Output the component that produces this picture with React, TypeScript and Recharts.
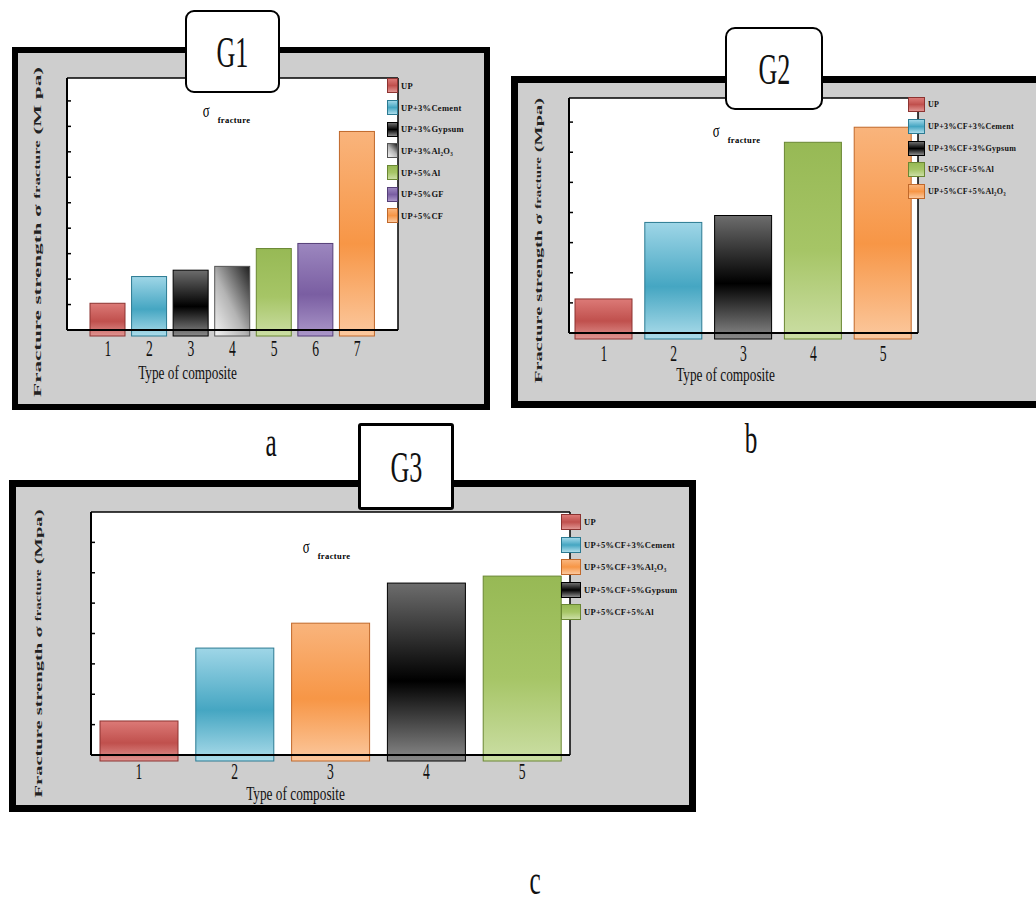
import React from "react";
import { BarChart, Bar, XAxis, YAxis, CartesianGrid, Cell, Legend } from "recharts";

const SERIF = '"Liberation Serif", "Times New Roman", serif';

// G1: UP with single additives
const g1Types = ["1", "2", "3", "4", "5", "6", "7"];
const g1Strength = [1.05, 2.1, 2.35, 2.5, 3.2, 3.4, 7.8];
const g1Names = ["UP", "UP+3%Cement", "UP+3%Gypsum", "UP+3%Al₂O₃", "UP+5%Al", "UP+5%GF", "UP+5%CF"];
const g1Colors = ["red", "blue", "black", "gray", "green", "purple", "orange"];
const g1YTicks = [1, 2, 3, 4, 5, 6, 7, 8, 9];

// G2: UP + 3%CF hybrids
const g2Types = ["1", "2", "3", "4", "5"];
const g2Strength = [1.13, 3.67, 3.9, 6.33, 6.83];
const g2Names = ["UP", "UP+3%CF+3%Cement", "UP+3%CF+3%Gypsum", "UP+5%CF+5%Al", "UP+5%CF+5%Al₂O₃"];
const g2Colors = ["red", "blue", "black", "green", "orange"];
const g2YTicks = [1, 2, 3, 4, 5, 6, 7];

// G3: UP + 5%CF hybrids
const g3Types = ["1", "2", "3", "4", "5"];
const g3Strength = [1.12, 3.52, 4.34, 5.66, 5.89];
const g3Names = ["UP", "UP+5%CF+3%Cement", "UP+5%CF+3%Al₂O₃", "UP+5%CF+5%Gypsum", "UP+5%CF+5%Al"];
const g3Colors = ["red", "blue", "orange", "black", "green"];
const g3YTicks = [1, 2, 3, 4, 5, 6, 7];

// top / middle / bottom shades of each bar, plus outline
const SHADES: Record<string, { stops: string[]; line: string; diag?: boolean }> = {
  red: { stops: ["#dc7a77", "#c0504d", "#e09491"], line: "#8c3331" },
  blue: { stops: ["#9fd6e7", "#45a6c2", "#acdcea"], line: "#2b7a92" },
  black: { stops: ["#6d6d6d", "#000000", "#8a8a8a"], line: "#000000" },
  gray: { stops: ["#f4f4f4", "#b4b4b4", "#1e1e1e"], line: "#555555", diag: true },
  green: { stops: ["#97b955", "#a6c566", "#cbdea4"], line: "#6a8733" },
  purple: { stops: ["#9c87bf", "#7a5ea2", "#ab97c9"], line: "#553f78" },
  orange: { stops: ["#f9b47c", "#f79646", "#fbc89e"], line: "#c0682a" },
};

const swatchBg = (c: string) => {
  const s = SHADES[c];
  return s.diag
    ? `linear-gradient(45deg, ${s.stops[0]}, ${s.stops[1]}, ${s.stops[2]})`
    : `linear-gradient(to bottom, ${s.stops[0]}, ${s.stops[1]}, ${s.stops[2]})`;
};

// bar drawn a little past the baseline, like the original's raised base
function RaisedBar(props: any) {
  const { x, y, width, height, fill, stroke } = props;
  if (!height || height <= 0) return null;
  return <rect x={x} y={y} width={width} height={height + 6} fill={fill} stroke={stroke} strokeWidth={1} />;
}

// keeps the tick marks but draws no tick text
function NoLabel() {
  return <g />;
}

function NumTick(props: any) {
  const { x, y, payload, dy } = props;
  return (
    <text
      transform={`translate(${x},${y + dy}) scale(0.85,1.5)`}
      textAnchor="middle"
      dominantBaseline="central"
      fontFamily={SERIF}
      fontSize={16}
      fill="#111"
    >
      {payload.value}
    </text>
  );
}

function XTitle(props: any) {
  const { viewBox, dx, dy } = props;
  const cx = viewBox.x + viewBox.width / 2 + dx;
  const cy = viewBox.y + dy;
  return (
    <text
      transform={`translate(${cx},${cy}) scale(0.95,1.3)`}
      textAnchor="middle"
      dominantBaseline="central"
      fontFamily={SERIF}
      fontSize={14}
      fill="#111"
    >
      Type of composite
    </text>
  );
}

function YTitle(props: any) {
  const { viewBox, dx, dy, len, unit } = props;
  const cx = viewBox.x + dx;
  const cy = viewBox.y + viewBox.height / 2 + dy;
  return (
    <text
      x={cx}
      y={cy}
      transform={`rotate(-90 ${cx} ${cy})`}
      textAnchor="middle"
      dominantBaseline="central"
      fontFamily={SERIF}
      fontSize={11}
      fontWeight="bold"
      fill="#222"
      textLength={len}
      lengthAdjust="spacingAndGlyphs"
    >
      Fracture strength  σ <tspan fontSize={8}>fracture</tspan> ({unit})
    </text>
  );
}

function SwatchLegend(props: any) {
  const { names, colors, sw, sh, row, font } = props;
  return (
    <div style={{ fontFamily: SERIF }}>
      {names.map((n: string, i: number) => (
        <div key={n + i} style={{ display: "flex", alignItems: "center", height: row }}>
          <div
            style={{
              width: sw,
              height: sh,
              background: swatchBg(colors[i]),
              border: `1px solid ${SHADES[colors[i]].line}`,
              boxSizing: "border-box",
              flexShrink: 0,
            }}
          />
          <span
            style={{
              fontSize: font,
              fontWeight: "bold",
              color: "#111",
              marginLeft: 3,
              whiteSpace: "nowrap",
              letterSpacing: 0.3,
            }}
          >
            {n}
          </span>
        </div>
      ))}
    </div>
  );
}

type Spec = {
  id: string;
  types: string[];
  values: number[];
  names: string[];
  colors: string[];
  yTicks: number[];
  yMax: number;
  frame: { left: number; top: number; width: number; height: number; border: number };
  margin: { top: number; right: number; bottom: number; left: number };
  barSize: number;
  pad: number;
  unit: string;
  yTitle: { dx: number; dy: number; len: number };
  tickDy: number;
  xTitle: { dx: number; dy: number };
  legend: { left: number; top: number; sw: number; sh: number; row: number; font: number };
};

const panels: Spec[] = [
  {
    id: "g1",
    types: g1Types,
    values: g1Strength,
    names: g1Names,
    colors: g1Colors,
    yTicks: g1YTicks,
    yMax: 9.9,
    frame: { left: 12, top: 47, width: 478, height: 363, border: 6 },
    margin: { top: 24, right: 86, bottom: 34, left: 49 },
    barSize: 35,
    pad: 20,
    unit: "M pa",
    yTitle: { dx: -30, dy: 28, len: 330 },
    tickDy: 18,
    xTitle: { dx: -45, dy: 43 },
    legend: { left: 369, top: 22, sw: 11, sh: 15, row: 21.7, font: 8.5 },
  },
  {
    id: "g2",
    types: g2Types,
    values: g2Strength,
    names: g2Names,
    colors: g2Colors,
    yTicks: g2YTicks,
    yMax: 7.8,
    frame: { left: 511, top: 76, width: 540, height: 332, border: 7 },
    margin: { top: 14, right: 126, bottom: 28, left: 51 },
    barSize: 57,
    pad: 0,
    unit: "Mpa",
    yTitle: { dx: -31, dy: 25, len: 285 },
    tickDy: 20,
    xTitle: { dx: -18, dy: 42 },
    legend: { left: 390, top: 11, sw: 17, sh: 15, row: 21.7, font: 8 },
  },
  {
    id: "g3",
    types: g3Types,
    values: g3Strength,
    names: g3Names,
    colors: g3Colors,
    yTicks: g3YTicks,
    yMax: 8,
    frame: { left: 9, top: 480, width: 687, height: 332, border: 7 },
    margin: { top: 24, right: 119, bottom: 10, left: 75 },
    barSize: 78,
    pad: 0,
    unit: "Mpa",
    yTitle: { dx: -53, dy: 20, len: 288 },
    tickDy: 16,
    xTitle: { dx: -35, dy: 39 },
    legend: { left: 545, top: 24, sw: 20, sh: 16, row: 22.5, font: 8.5 },
  },
];

function StrengthPanel({ spec }: { spec: Spec }) {
  const { frame } = spec;
  const w = frame.width - frame.border * 2;
  const h = frame.height - frame.border * 2;
  const data = spec.types.map((t, i) => ({ type: t, strength: spec.values[i] }));
  const used = Array.from(new Set(spec.colors));

  return (
    <div
      style={{
        position: "absolute",
        left: frame.left,
        top: frame.top,
        width: w,
        height: h,
        border: `${frame.border}px solid #000`,
        background: "#cecece",
      }}
    >
      <BarChart width={w} height={h} data={data} margin={spec.margin} barCategoryGap={0}>
        <defs>
          {used.map((c) => {
            const s = SHADES[c];
            return s.diag ? (
              <linearGradient key={c} id={`${spec.id}-${c}`} x1="0" y1="1" x2="1" y2="0">
                <stop offset="0%" stopColor={s.stops[0]} />
                <stop offset="45%" stopColor={s.stops[1]} />
                <stop offset="100%" stopColor={s.stops[2]} />
              </linearGradient>
            ) : (
              <linearGradient key={c} id={`${spec.id}-${c}`} x1="0" y1="0" x2="0" y2="1">
                <stop offset="0%" stopColor={s.stops[0]} />
                <stop offset="55%" stopColor={s.stops[1]} />
                <stop offset="100%" stopColor={s.stops[2]} />
              </linearGradient>
            );
          })}
        </defs>

        <CartesianGrid horizontal={false} vertical={false} fill="#ffffff" fillOpacity={1} />

        <XAxis
          dataKey="type"
          height={40}
          padding={{ left: spec.pad, right: spec.pad }}
          axisLine={{ stroke: "#000", strokeWidth: 2 }}
          tickLine={false}
          tickSize={0}
          tickMargin={0}
          tick={<NumTick dy={spec.tickDy} />}
          interval={0}
          label={<XTitle dx={spec.xTitle.dx} dy={spec.xTitle.dy} />}
        />
        <XAxis
          xAxisId="top"
          orientation="top"
          height={1}
          tick={false}
          tickLine={false}
          axisLine={{ stroke: "#000", strokeWidth: 1.5 }}
        />
        <YAxis
          width={1}
          domain={[0, spec.yMax]}
          ticks={spec.yTicks}
          mirror
          tick={<NoLabel />}
          tickSize={4}
          tickLine={{ stroke: "#000", strokeWidth: 1.5 }}
          axisLine={{ stroke: "#000", strokeWidth: 2 }}
          label={<YTitle dx={spec.yTitle.dx} dy={spec.yTitle.dy} len={spec.yTitle.len} unit={spec.unit} />}
        />
        <YAxis
          yAxisId="right"
          orientation="right"
          width={1}
          domain={[0, spec.yMax]}
          ticks={spec.yTicks}
          mirror
          tick={<NoLabel />}
          tickSize={3}
          tickLine={{ stroke: "#000" }}
          axisLine={{ stroke: "#000", strokeWidth: 1.5 }}
        />

        <Legend
          layout="horizontal"
          verticalAlign="middle"
          align="center"
          wrapperStyle={{ left: spec.legend.left, top: spec.legend.top, width: "auto" }}
          content={
            <SwatchLegend
              names={spec.names}
              colors={spec.colors}
              sw={spec.legend.sw}
              sh={spec.legend.sh}
              row={spec.legend.row}
              font={spec.legend.font}
            />
          }
        />

        <Bar dataKey="strength" barSize={spec.barSize} isAnimationActive={false} shape={<RaisedBar />}>
          {spec.colors.map((c, i) => (
            <Cell key={i} fill={`url(#${spec.id}-${c})`} stroke={SHADES[c].line} />
          ))}
        </Bar>
      </BarChart>
    </div>
  );
}

function GBox({ left, top, width, height, radius, border, text }: any) {
  return (
    <div
      style={{
        position: "absolute",
        left,
        top,
        width,
        height,
        boxSizing: "border-box",
        border: `${border}px solid #000`,
        borderRadius: radius,
        background: "#fff",
        display: "flex",
        alignItems: "center",
        justifyContent: "center",
        zIndex: 2,
      }}
    >
      <span style={{ fontFamily: SERIF, fontSize: 30, display: "inline-block", transform: "scale(0.87,1.5)", color: "#111" }}>
        {text}
      </span>
    </div>
  );
}

function Sigma({ left, top }: { left: number; top: number }) {
  return (
    <div style={{ position: "absolute", left, top, fontFamily: SERIF, lineHeight: 1, whiteSpace: "nowrap", zIndex: 1 }}>
      <span style={{ fontSize: 16, display: "inline-block", transform: "scale(0.8,1.2)" }}>σ</span>
      <span style={{ fontSize: 8.5, fontWeight: "bold", marginLeft: 7, position: "relative", top: 7, letterSpacing: 0.4 }}>
        fracture
      </span>
    </div>
  );
}

function Letter({ left, top, text }: any) {
  return (
    <div
      style={{
        position: "absolute",
        left,
        top,
        fontFamily: SERIF,
        fontSize: 28,
        lineHeight: 1,
        transform: "scale(0.9,1.5)",
        color: "#111",
      }}
    >
      {text}
    </div>
  );
}

export default function App() {
  return (
    <div
      style={{
        position: "absolute",
        left: 0,
        top: 0,
        width: 1036,
        height: 911,
        overflow: "hidden",
        background: "#fff",
      }}
    >
      {panels.map((p) => (
        <StrengthPanel key={p.id} spec={p} />
      ))}

      <GBox left={185} top={10} width={95} height={83} radius={9} border={2} text="G1" />
      <GBox left={725} top={27} width={98} height={83} radius={10} border={2} text="G2" />
      <GBox left={358} top={423} width={96} height={87} radius={3} border={3} text="G3" />

      <Sigma left={202} top={103} />
      <Sigma left={712} top={123} />
      <Sigma left={302} top={539} />

      <Letter left={265} top={428} text="a" />
      <Letter left={744} top={425} text="b" />
      <Letter left={529} top={866} text="c" />
    </div>
  );
}
